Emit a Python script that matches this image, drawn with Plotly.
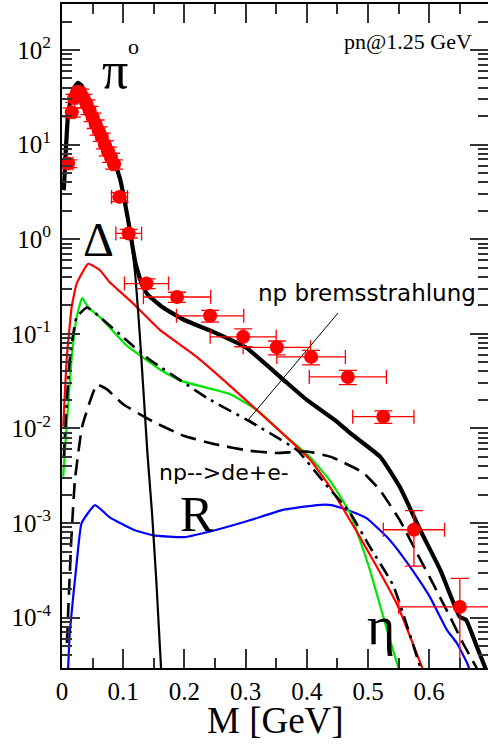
import plotly.graph_objects as go

# ---------------- data ----------------
tot_x = [0.003, 0.01, 0.018, 0.026, 0.032, 0.051, 0.078, 0.095, 0.108, 0.12, 0.13, 0.14,
         0.165, 0.2, 0.247, 0.3, 0.361, 0.4, 0.449, 0.471, 0.52, 0.552, 0.585, 0.618,
         0.65, 0.66, 0.678, 0.692]
tot_y = [3.3, 21, 38, 45, 42, 21, 9.3, 4.3, 1.6, 0.56, 0.34, 0.26,
         0.19, 0.14, 0.105, 0.072, 0.033, 0.02, 0.0118, 0.0089, 0.005, 0.0024, 8.5e-4, 3.2e-4,
         1.02e-4, 9.5e-5, 4.9e-5, 2.9e-5]

pi0_x = [0.003, 0.01, 0.018, 0.026, 0.032, 0.051, 0.078, 0.095, 0.108, 0.114, 0.12, 0.127,
         0.134, 0.14, 0.147, 0.154, 0.162]
pi0_y = [3.3, 21, 38, 45, 42, 21, 9.3, 4.3, 1.6, 0.9, 0.4, 0.1,
         0.02, 0.005, 1.3e-3, 2.5e-4, 2.8e-5]

delta_x = [0.002, 0.008, 0.016, 0.024, 0.043, 0.062, 0.078, 0.116, 0.16, 0.22, 0.318,
           0.405, 0.438, 0.492, 0.547, 0.589]
delta_y = [0.0105, 0.058, 0.195, 0.34, 0.55, 0.47, 0.35, 0.21, 0.11, 0.057, 0.0157,
           0.0047, 0.0024, 6.2e-4, 1.4e-4, 2.9e-5]

eta_x = [0.002, 0.008, 0.016, 0.024, 0.033, 0.043, 0.062, 0.106, 0.16, 0.193, 0.275,
         0.318, 0.36, 0.405, 0.438, 0.471, 0.503, 0.531, 0.55]
eta_y = [0.0031, 0.0115, 0.058, 0.15, 0.24, 0.19, 0.15, 0.075, 0.042, 0.032, 0.023,
         0.0157, 0.0089, 0.005, 0.0028, 0.00126, 3.2e-4, 7.4e-5, 2.9e-5]

brems_x = [0.003, 0.008, 0.013, 0.024, 0.041, 0.062, 0.106, 0.14, 0.16, 0.237, 0.307,
           0.384, 0.43, 0.47, 0.503, 0.541, 0.586]
brems_y = [0.005, 0.02, 0.056, 0.15, 0.19, 0.15, 0.085, 0.055, 0.045, 0.021, 0.0118,
           0.0059, 0.0026, 0.0013, 5.6e-4, 2.2e-4, 2.9e-5]

dee_x = [0.008, 0.015, 0.021, 0.033, 0.057, 0.073, 0.1, 0.15, 0.2, 0.25, 0.307, 0.35,
         0.4, 0.44, 0.492, 0.52, 0.552, 0.58, 0.606, 0.634, 0.655, 0.678]
dee_y = [5.4e-5, 6.3e-4, 0.0028, 0.0105, 0.029, 0.026, 0.018, 0.0117, 0.0083, 0.0068,
         0.0058, 0.0055, 0.0057, 0.005, 0.0034, 0.0022, 0.00107, 4.8e-4, 2.3e-4, 1.02e-4,
         5.4e-5, 2.9e-5]

rho_x = [0.01, 0.013, 0.024, 0.032, 0.054, 0.078, 0.117, 0.149, 0.2, 0.253, 0.307, 0.361,
         0.417, 0.44, 0.465, 0.498, 0.531, 0.557, 0.58, 0.601, 0.629, 0.645, 0.662, 0.666]
rho_y = [2.9e-5, 7.4e-5, 3.8e-4, 0.001, 0.00155, 0.00115, 8.5e-4, 7.4e-4, 7.1e-4, 8.5e-4,
         0.00107, 0.00138, 0.00155, 0.00155, 0.00138, 0.00112, 7.1e-4, 4.4e-4, 2.7e-4,
         1.66e-4, 7.4e-5, 5.4e-5, 3.3e-5, 2.8e-5]

# experimental points
pt_x = [0.01, 0.016, 0.02, 0.025, 0.03, 0.035, 0.04, 0.045, 0.05, 0.055, 0.06, 0.065,
        0.07, 0.075, 0.08, 0.085, 0.094, 0.109, 0.138, 0.188, 0.242, 0.296, 0.351, 0.407,
        0.467, 0.525, 0.575, 0.65]
pt_y = [6.3, 22, 31, 36, 35, 31, 27, 23, 19.5, 16.5, 14, 12,
        10, 8.5, 7.3, 6.2, 2.8, 1.15, 0.34, 0.245, 0.155, 0.093, 0.072, 0.057,
        0.035, 0.0133, 8.5e-4, 1.3e-4]
pt_ex = [0.008, 0.005, 0.005, 0.005, 0.005, 0.005, 0.005, 0.005, 0.005, 0.005, 0.005, 0.005,
         0.005, 0.005, 0.005, 0.005, 0.013, 0.021, 0.036, 0.055, 0.055, 0.054, 0.055, 0.056,
         0.063, 0.05, 0.05, 0.1]
pt_ey = [0.6, 2.5, 3, 3.5, 3.5, 3, 2.7, 2.3, 2, 1.7, 1.4, 1.2,
         1.0, 0.9, 0.8, 0.7, 0.3, 0.12, 0.04, 0.03, 0.022, 0.02, 0.012, 0.01,
         0.006, 0.002, 5e-4, 1.3e-4]

x_ticks = [0, 0.1, 0.2, 0.3, 0.4, 0.5, 0.6]
x_ticktext = ["0", "0.1", "0.2", "0.3", "0.4", "0.5", "0.6"]
y_exps = [-4, -3, -2, -1, 0, 1, 2]

# ---------------- figure ----------------
fig = go.Figure()

def curve(x, y, color, width, dash="solid"):
    fig.add_trace(go.Scatter(x=x, y=y, mode="lines",
                             line=dict(color=color, width=width, dash=dash,
                                       shape="spline", smoothing=0.4),
                             showlegend=False, hoverinfo="skip"))

curve(rho_x, rho_y, "#0000ff", 2.2)
curve(eta_x, eta_y, "#00e600", 2.2)
curve(delta_x, delta_y, "#ff0000", 2.2)
curve(brems_x, brems_y, "#000000", 2.6, "14px,6px,3px,6px")
curve(dee_x, dee_y, "#000000", 2.6, "16px,8px")
curve(pi0_x, pi0_y, "#000000", 2.2)
curve(tot_x, tot_y, "#000000", 4.2)

# leader line for the bremsstrahlung label
fig.add_trace(go.Scatter(x=[0.451, 0.305, 0.32], y=[0.166, 0.0125, 0.0108], mode="lines",
                         line=dict(color="#000000", width=1), showlegend=False,
                         hoverinfo="skip"))

fig.add_trace(go.Scatter(
    x=pt_x, y=pt_y, mode="markers",
    marker=dict(color="#ff0000", size=14, symbol="circle"),
    error_x=dict(type="data", array=pt_ex, color="#ff0000", thickness=1.3, width=7),
    error_y=dict(type="data", array=pt_ey, color="#ff0000", thickness=1.3, width=9),
    showlegend=False, hoverinfo="skip"))

serif = "Liberation Serif"
sans = "DejaVu Sans"

def label(x, ly, text, size, family, xanchor="center", yanchor="middle"):
    fig.add_annotation(x=x, y=ly, xref="x", yref="y", text=text, showarrow=False,
                       font=dict(family=family, size=size, color="#000000"),
                       xanchor=xanchor, yanchor=yanchor)

label(0.086, 1.78, "π", 52, serif)
label(0.117, 2.04, "o", 22, serif)
label(0.059, 0.0, "Δ", 48, serif)
label(0.22, -2.9, "R", 50, serif)
label(0.521, -4.09, "η", 54, serif)
label(0.499, -0.57, "np bremsstrahlung", 23, sans)
label(0.265, -2.47, "np-->de+e-", 22, sans)
label(0.673, 2.085, "pn@1.25 GeV", 22, serif, xanchor="right")

# x-axis title placed as text below the axis
fig.add_annotation(x=0.502, y=-0.0785, xref="paper", yref="paper", text="M [GeV]",
                   showarrow=False, xanchor="center", yanchor="middle",
                   font=dict(family=serif, size=37, color="#000000"))

minor_y = [m * 10.0 ** e for e in range(-5, 3) for m in range(2, 10)]

fig.update_layout(
    width=488, height=744,
    margin=dict(l=62, r=0, t=4, b=76, autoexpand=False),
    paper_bgcolor="white", plot_bgcolor="white",
    font=dict(family=serif, color="#000000"),
    xaxis=dict(
        range=[0, 0.696], showgrid=False, zeroline=False, automargin=False,
        showline=True, linecolor="#000000", linewidth=2, mirror="ticks",
        ticks="inside", ticklen=19, tickwidth=1.5, tickcolor="#333333",
        tickmode="array", tickvals=x_ticks, ticktext=x_ticktext,
        tickfont=dict(family=serif, size=25, color="#000000"),
        ticklabelstandoff=0,
        minor=dict(ticks="inside", ticklen=10, tickwidth=1.5, tickcolor="#333333",
                   dtick=0.05, tick0=0, showgrid=False),
    ),
    yaxis=dict(
        type="log", range=[-4.532, 2.486], showgrid=False, zeroline=False,
        automargin=False,
        showline=True, linecolor="#000000", linewidth=2, mirror="ticks",
        ticks="inside", ticklen=18, tickwidth=1.5, tickcolor="#333333",
        tickmode="array", tickvals=[10.0 ** e for e in y_exps],
        ticktext=["10<sup>%d</sup>" % e for e in y_exps],
        tickfont=dict(family=serif, size=25, color="#000000"),
        ticklabelstandoff=4,
        minor=dict(ticks="inside", ticklen=10, tickwidth=1.5, tickcolor="#333333",
                   tickmode="array", tickvals=minor_y, showgrid=False),
    ),
)

fig.write_html("out.html",
               config={"displayModeBar": False},
               post_script="document.body.style.margin='0px';"
                           "document.body.style.overflow='hidden';")
